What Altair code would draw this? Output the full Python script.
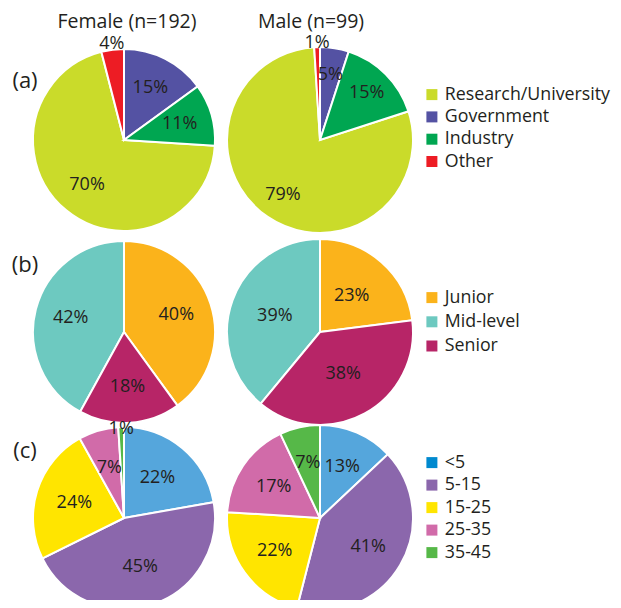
import altair as alt
import pandas as pd

# ---------------- data ----------------
col_titles = ["Female (n=192)", "Male (n=99)"]
row_labels = ["(a)", "(b)", "(c)"]

sectors = ["Research/University", "Government", "Industry", "Other"]
sector_colors = ["#CADB2A", "#5452A3", "#00A651", "#ED1C24"]
sector_pie_order = ["Government", "Industry", "Research/University", "Other"]
female_sector = [70, 15, 11, 4]
male_sector = [79, 5, 15, 1]

levels = ["Junior", "Mid-level", "Senior"]
level_colors = ["#FBB31B", "#6DC9C0", "#B72567"]
level_pie_order = ["Junior", "Senior", "Mid-level"]
female_level = [40, 42, 18]
male_level = [23, 39, 38]

years = ["<5", "5-15", "15-25", "25-35", "35-45"]
year_legend_colors = ["#0089CF", "#8B67AC", "#FFE500", "#D16BA9", "#56B848"]
year_slice_colors = ["#55A6DC", "#8B67AC", "#FFE500", "#D16BA9", "#56B848"]
year_pie_order = ["<5", "5-15", "15-25", "25-35", "35-45"]
female_year = [22, 45, 24, 7, 1]
male_year = [13, 41, 22, 17, 7]

FONT = "Open Sans"
TXT = "#231F20"

# ---------------- layout ----------------
W, H = 605, 592
COL_X = [116, 312]
ROW_Y = [132, 324, 510]
R = [91, 93]
# label radius per (row, column)
LABEL_R = [[58, 66], [55, 48], [52, 56]]
OUTER_R = [[97, 97], [100, 100], [89, 100]]


def make_df(cats, vals, order):
    return pd.DataFrame({
        "cat": cats,
        "v": vals,
        "ord": [order.index(c) for c in cats],
    })


def pie(df, cx, cy, r, lr, orr, domain, rng):
    base = alt.Chart(df)
    arc = base.mark_arc(outerRadius=r, stroke="white", strokeWidth=2).encode(
        theta=alt.Theta("v:Q", stack=True),
        order=alt.Order("ord:Q"),
        color=alt.Color("cat:N", scale=alt.Scale(domain=domain, range=rng), legend=None),
        x=alt.value(cx),
        y=alt.value(cy),
    )
    inner = base.transform_calculate(
        lab="datum.v >= 5 ? datum.v + '%' : ''"
    ).mark_text(radius=lr, font=FONT, fontSize=18, color=TXT,
                align="center", baseline="middle").encode(
        theta=alt.Theta("v:Q", stack=True),
        order=alt.Order("ord:Q"),
        text="lab:N",
        x=alt.value(cx),
        y=alt.value(cy),
    )
    outer = base.transform_calculate(
        lab="datum.v < 5 ? datum.v + '%' : ''"
    ).mark_text(radius=orr, font=FONT, fontSize=18, color=TXT,
                align="center", baseline="middle").encode(
        theta=alt.Theta("v:Q", stack=True),
        order=alt.Order("ord:Q"),
        text="lab:N",
        x=alt.value(cx),
        y=alt.value(cy),
    )
    return [arc, inner, outer]


def legend_layer(cats, colors, ly, row_pad):
    df = pd.DataFrame({"cat": cats})
    return alt.Chart(df).mark_square(size=0, filled=True).encode(
        color=alt.Color(
            "cat:N",
            scale=alt.Scale(domain=cats, range=colors),
            sort=cats,
            legend=alt.Legend(
                orient="none", legendX=415, legendY=ly, title=None,
                symbolType="square", symbolSize=121, symbolStrokeWidth=0,
                symbolOpacity=1, labelFont=FONT, labelFontSize=17.8,
                labelColor=TXT, labelOffset=4, labelLimit=0,
                rowPadding=row_pad, padding=0,
            ),
        ),
        x=alt.value(0),
        y=alt.value(0),
    )


layers = []
rows = [
    (sectors, sector_colors, sector_colors, sector_pie_order, female_sector, male_sector),
    (levels, level_colors, level_colors, level_pie_order, female_level, male_level),
    (years, year_slice_colors, year_legend_colors, year_pie_order, female_year, male_year),
]
for i, (cats, slice_cols, leg_cols, order, fvals, mvals) in enumerate(rows):
    for j, vals in enumerate([fvals, mvals]):
        layers += pie(make_df(cats, vals, order), COL_X[j], ROW_Y[i], R[j],
                      LABEL_R[i][j], OUTER_R[i][j], cats, slice_cols)

legend_y = [77.7, 280.7, 445.7]
legend_pad = [3.3, 5.2, 3.5]
for i, (cats, slice_cols, leg_cols, order, fvals, mvals) in enumerate(rows):
    layers.append(legend_layer(cats, leg_cols, legend_y[i], legend_pad[i]))

# column titles
title_x = [119, 303]
for t, tx in zip(col_titles, title_x):
    layers.append(
        alt.Chart(pd.DataFrame({"t": [t]})).mark_text(
            font=FONT, fontSize=19.5, color=TXT, align="center", baseline="middle"
        ).encode(text="t:N", x=alt.value(tx), y=alt.value(14))
    )

# row labels
row_label_y = [73, 257, 443]
for t, ty in zip(row_labels, row_label_y):
    layers.append(
        alt.Chart(pd.DataFrame({"t": [t]})).mark_text(
            font=FONT, fontSize=22, color=TXT, align="center", baseline="middle"
        ).encode(text="t:N", x=alt.value(17), y=alt.value(ty))
    )

chart = alt.layer(*layers).resolve_scale(
    color="independent", theta="independent"
).properties(
    width=W, height=H, padding=0,
    autosize=alt.AutoSizeParams(type="none"),
).configure_view(stroke=None)

chart.save("out.html", embed_options={"renderer": "svg", "actions": False})
